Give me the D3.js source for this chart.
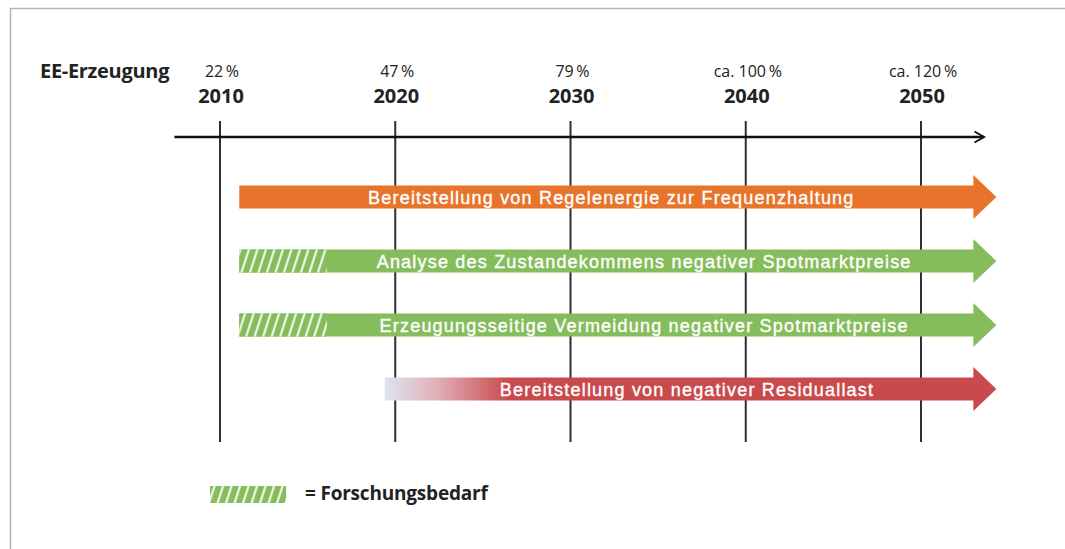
<!DOCTYPE html>
<html>
<head>
<meta charset="utf-8">
<script src="https://cdn.jsdelivr.net/npm/d3@7"></script>
<style>
  body { margin: 0; background: #fff; }
  svg { display: block; }
</style>
</head>
<body>
<div id="chart"></div>
<script>
// timeline data
var years = [2010, 2020, 2030, 2040, 2050];
var shares = ["22\u2009%", "47\u2009%", "79\u2009%", "ca. 100\u2009%", "ca. 120\u2009%"];

var barLabels = [
  "Bereitstellung von Regelenergie zur Frequenzhaltung",
  "Analyse des Zustandekommens negativer Spotmarktpreise",
  "Erzeugungsseitige Vermeidung negativer Spotmarktpreise",
  "Bereitstellung von negativer Residuallast"
];
var barStart = [2011.1, 2011.1, 2011.1, 2019.4];
var barEnd = 2054.3;
var researchEnd = [null, 2016.1, 2016.1, null];   // hatched part = Forschungsbedarf
var barKind = ["orange", "green", "green", "red"];

var width = 1065, height = 549;

var svg = d3.select("#chart").append("svg")
    .attr("width", width)
    .attr("height", height);

var x = d3.scaleLinear().domain([2010, 2050]).range([220, 921]);
var y = d3.scalePoint().domain(d3.range(barLabels.length)).range([197, 389]);

var colors = {orange: "#e8742b", green: "#86bd5c", red: "#c94a4c"};
var textShift = {orange: 5, green: -6, red: 8};

var defs = svg.append("defs");
var hatch = defs.append("pattern")
    .attr("id", "hatch")
    .attr("patternUnits", "userSpaceOnUse")
    .attr("width", 8.5).attr("height", 8)
    .attr("patternTransform", "skewX(-18)");
hatch.append("rect").attr("width", 8.5).attr("height", 8).attr("fill", colors.green);
hatch.append("rect").attr("x", 6).attr("width", 2).attr("height", 8).attr("fill", "#fff");

var grad = defs.append("linearGradient")
    .attr("id", "redfade")
    .attr("gradientUnits", "userSpaceOnUse")
    .attr("x1", x(barStart[3])).attr("x2", x(2026.5)).attr("y1", 0).attr("y2", 0);
grad.append("stop").attr("offset", "0%").attr("stop-color", "#dde4f0");
grad.append("stop").attr("offset", "40%").attr("stop-color", "#e0b3ba");
grad.append("stop").attr("offset", "100%").attr("stop-color", colors.red);

// frame
svg.append("path")
    .attr("d", "M10.5," + height + "V8.5H" + width)
    .attr("fill", "none")
    .attr("stroke", "#b4b4b4")
    .attr("stroke-width", 1.5);

// vertical year lines
svg.append("g").selectAll("line").data(years)
  .enter().append("line")
    .attr("x1", function(d) { return x(d); })
    .attr("x2", function(d) { return x(d); })
    .attr("y1", 121).attr("y2", 442)
    .attr("stroke", "#2e2e33")
    .attr("stroke-width", 2);

// main time axis with arrow
defs.append("marker")
    .attr("id", "arrow")
    .attr("viewBox", "0 0 10 10")
    .attr("refX", 8).attr("refY", 5)
    .attr("markerWidth", 5.5).attr("markerHeight", 5.5)
    .attr("markerUnits", "strokeWidth")
    .attr("orient", "auto")
  .append("path")
    .attr("d", "M1,1 L8,5 L1,9")
    .attr("fill", "none")
    .attr("stroke", "#111")
    .attr("stroke-width", 1.4);

svg.append("line")
    .attr("x1", x(2007.4)).attr("x2", x(2053.6))
    .attr("y1", 137).attr("y2", 137)
    .attr("stroke", "#111")
    .attr("stroke-width", 2.5)
    .attr("marker-end", "url(#arrow)");

// header labels
svg.append("text")
    .attr("x", 40).attr("y", 78)
    .style("font-family", "'Open Sans', sans-serif")
    .style("font-size", "20px")
    .style("font-weight", "bold")
    .style("letter-spacing", "-0.3px")
    .attr("fill", "#222")
    .text("EE-Erzeugung");

svg.append("g").selectAll("text").data(shares)
  .enter().append("text")
    .attr("x", function(d, i) { return x(years[i]) + 2; })
    .attr("y", 77)
    .attr("text-anchor", "middle")
    .style("font-family", "'Open Sans', sans-serif")
    .style("font-size", "16px")
    .attr("fill", "#222")
    .text(function(d) { return d; });

svg.append("g").selectAll("text").data(years)
  .enter().append("text")
    .attr("x", function(d) { return x(d) + 1; })
    .attr("y", 103)
    .attr("text-anchor", "middle")
    .style("font-family", "'Open Sans', sans-serif")
    .style("font-size", "20px")
    .style("font-weight", "bold")
    .attr("fill", "#222")
    .text(function(d) { return d; });

// arrow bars
var bodyH = 23, headH = 44, headL = 23;
function arrowPath(x0, x1, cy) {
  var xh = x1 - headL;
  return "M" + x0 + "," + (cy - bodyH / 2) +
    "H" + xh + "V" + (cy - headH / 2) +
    "L" + x1 + "," + cy +
    "L" + xh + "," + (cy + headH / 2) +
    "V" + (cy + bodyH / 2) + "H" + x0 + "Z";
}

var bars = svg.append("g").selectAll("g").data(barLabels)
  .enter().append("g");

bars.append("path")
    .attr("d", function(d, i) { return arrowPath(x(barStart[i]), x(barEnd), y(i)); })
    .attr("fill", function(d, i) { return barKind[i] == "red" ? "url(#redfade)" : colors[barKind[i]]; });

bars.filter(function(d, i) { return researchEnd[i] != null; })
  .append("rect")
    .attr("x", function(d) { var i = barLabels.indexOf(d); return x(barStart[i]); })
    .attr("y", function(d) { var i = barLabels.indexOf(d); return y(i) - bodyH / 2; })
    .attr("width", function(d) { var i = barLabels.indexOf(d); return x(researchEnd[i]) - x(barStart[i]); })
    .attr("height", bodyH)
    .attr("fill", "url(#hatch)");

bars.append("text")
    .attr("x", function(d, i) {
      var from = researchEnd[i] != null ? researchEnd[i] : barStart[i];
      return (x(from) + x(barEnd) - headL) / 2 + textShift[barKind[i]];
    })
    .attr("y", function(d, i) { return y(i) + 6.5; })
    .attr("text-anchor", "middle")
    .style("font-family", "'Liberation Sans', Arial, sans-serif")
    .style("font-size", "18px")
    .style("letter-spacing", "1.2px")
    .attr("fill", "#fff")
    .attr("stroke", "#fff")
    .attr("stroke-width", 0.35)
    .text(function(d) { return d; });

// legend
var legend = svg.append("g");
legend.append("rect")
    .attr("x", 210).attr("y", 486)
    .attr("width", 76).attr("height", 17)
    .attr("fill", "url(#hatch)");
legend.append("text")
    .attr("x", 305).attr("y", 500)
    .style("font-family", "'Open Sans', sans-serif")
    .style("font-size", "19px")
    .style("font-weight", "bold")
    .style("letter-spacing", "-0.2px")
    .attr("fill", "#222")
    .text("= Forschungsbedarf");
</script>
</body>
</html>
